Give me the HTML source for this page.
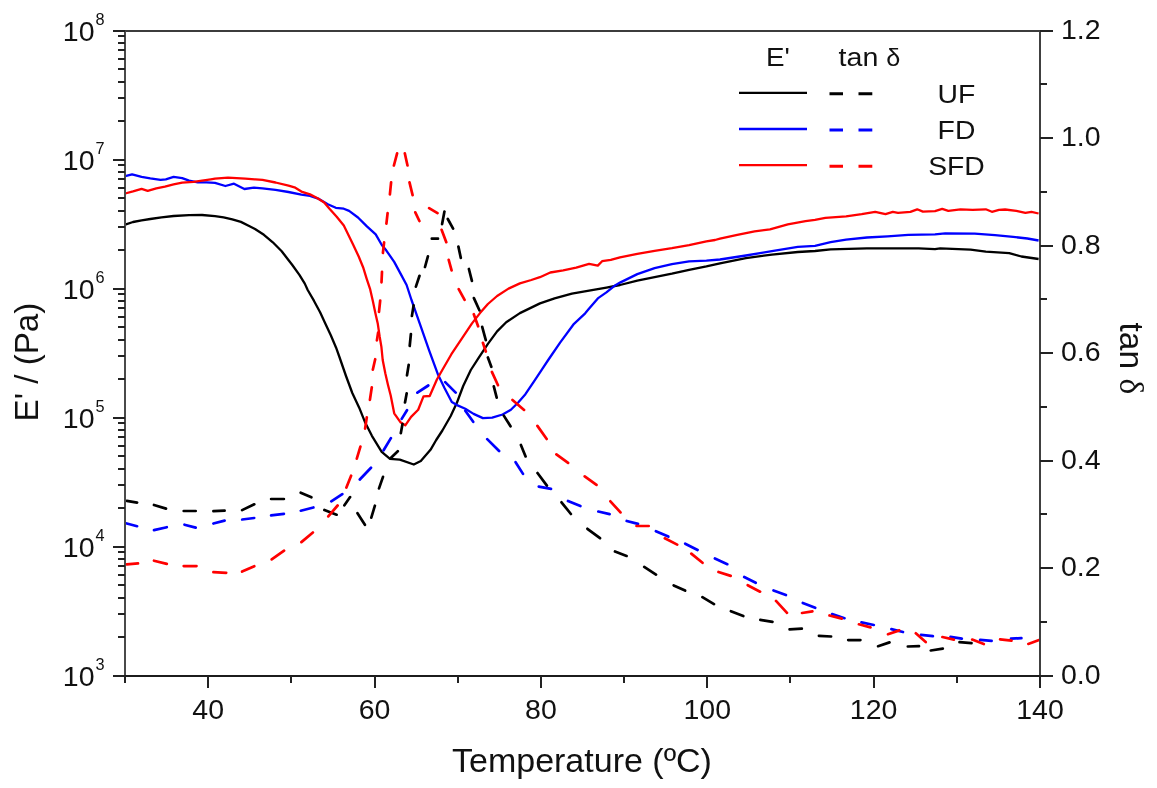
<!DOCTYPE html><html><head><meta charset="utf-8"><style>html,body{margin:0;padding:0;background:#fff;width:1157px;height:788px;overflow:hidden}svg{display:block;filter:blur(0.35px)}text{font-family:"Liberation Sans",sans-serif;fill:#111}</style></head><body>
<svg width="1157" height="788" viewBox="0 0 1157 788">
<rect width="1157" height="788" fill="#fff"/>
<g fill="none" stroke-linejoin="round">
<path d="M125.2 224.6 L133.0 222.0 L141.6 220.3 L150.3 219.0 L161.5 217.3 L173.6 216.0 L189.1 215.1 L202.1 215.0 L215.0 216.2 L223.6 217.4 L232.3 219.3 L240.9 221.9 L249.6 226.2 L255.0 229.0 L263.9 234.8 L272.8 242.3 L281.7 251.2 L286.1 257.0 L292.3 265.0 L299.4 274.8 L304.8 283.6 L307.7 290.0 L313.9 300.7 L320.1 312.2 L325.4 323.8 L330.8 335.3 L336.1 347.7 L339.6 357.5 L346.0 376.0 L352.3 393.0 L359.3 407.9 L364.9 421.9 L371.9 435.8 L381.7 451.9 L390.0 458.9 L399.8 459.6 L413.8 464.5 L420.8 461.0 L430.5 449.8 L436.2 440.0 L442.4 430.5 L450.7 416.0 L457.0 402.5 L463.2 386.0 L470.8 370.0 L478.8 357.6 L487.9 343.9 L497.1 331.4 L506.2 322.2 L519.9 313.1 L540.0 303.4 L554.6 298.4 L571.9 293.6 L589.1 290.6 L606.4 287.6 L620.0 285.0 L637.3 280.6 L654.6 277.2 L671.9 273.7 L689.1 269.8 L706.4 266.4 L720.0 263.3 L745.9 258.1 L771.9 254.6 L797.8 252.0 L815.0 251.0 L830.6 249.4 L866.9 248.4 L898.0 248.4 L918.7 248.4 L935.0 249.1 L940.2 248.4 L970.6 249.7 L985.8 251.7 L1009.2 253.1 L1021.4 256.5 L1038.6 259.0" stroke="#000" stroke-width="2.3"/>
<path d="M125.2 176.1 L132.1 174.3 L141.6 176.9 L150.3 178.4 L160.6 179.9 L165.8 179.3 L173.6 176.9 L182.2 178.1 L189.1 180.6 L197.8 182.3 L206.4 182.3 L215.0 182.8 L225.4 186.0 L234.0 183.7 L244.4 189.0 L253.9 187.7 L262.5 188.3 L275.5 189.9 L288.5 192.0 L301.4 194.6 L310.0 195.8 L318.9 198.9 L327.8 204.2 L335.8 207.8 L343.8 208.7 L349.1 210.9 L358.0 217.5 L366.9 226.4 L375.7 234.4 L381.8 245.0 L386.2 250.3 L394.2 261.9 L400.4 273.4 L406.6 285.0 L411.5 300.0 L416.0 312.8 L420.4 325.4 L429.2 350.7 L438.1 374.8 L444.5 388.0 L451.8 402.0 L457.0 405.1 L465.3 408.7 L473.6 413.9 L482.9 418.1 L492.2 417.6 L502.6 414.5 L510.9 409.8 L518.2 402.5 L525.4 394.2 L533.7 381.8 L542.0 369.3 L548.2 360.0 L560.1 342.6 L574.0 323.8 L585.2 313.3 L588.3 309.6 L597.8 298.4 L606.4 292.4 L615.1 285.4 L620.0 282.6 L637.3 274.1 L654.6 268.1 L671.9 264.2 L689.1 261.4 L706.4 260.6 L720.0 259.5 L745.9 255.5 L771.9 251.2 L797.8 246.9 L815.0 245.8 L830.6 242.2 L846.1 239.6 L866.9 237.5 L887.6 236.3 L908.3 234.9 L935.0 234.4 L945.2 233.4 L974.7 233.6 L995.0 235.2 L1013.2 236.9 L1027.4 238.5 L1038.6 240.5" stroke="#0000ff" stroke-width="2.3"/>
<path d="M125.2 193.5 L133.0 191.4 L141.6 188.8 L147.7 190.8 L156.3 188.3 L164.9 186.6 L173.6 184.4 L182.2 182.7 L193.5 181.9 L202.1 180.6 L210.8 179.3 L215.0 178.6 L228.0 177.6 L245.3 178.6 L262.5 179.9 L275.5 182.5 L288.5 185.6 L294.5 187.3 L301.4 191.6 L310.0 194.4 L317.1 198.0 L324.2 202.4 L329.5 208.7 L336.7 216.7 L343.8 225.5 L353.3 245.0 L358.7 256.5 L363.1 267.2 L366.7 278.8 L370.2 289.4 L373.0 301.7 L375.4 313.2 L377.8 323.8 L379.6 336.2 L381.4 346.9 L382.7 360.0 L385.3 373.3 L388.0 384.9 L390.7 395.5 L394.2 413.3 L400.4 422.2 L405.3 425.3 L411.1 416.9 L418.2 409.7 L423.5 396.4 L429.7 396.0 L436.9 379.5 L442.3 370.0 L451.4 354.2 L462.8 337.1 L472.0 323.4 L480.0 313.1 L487.9 304.0 L497.1 296.0 L508.5 288.6 L519.9 283.4 L531.3 280.0 L539.9 277.2 L550.3 272.5 L563.2 270.3 L576.2 267.7 L589.1 263.8 L597.8 265.6 L602.1 261.2 L610.8 259.9 L620.0 257.3 L637.3 253.8 L654.6 250.8 L671.9 248.2 L689.1 245.2 L706.4 241.3 L715.0 240.0 L720.0 238.6 L737.3 234.8 L754.6 231.3 L770.0 229.4 L787.8 224.4 L805.5 221.2 L815.0 219.9 L825.4 217.8 L846.1 216.3 L861.7 214.2 L875.2 211.8 L885.5 214.2 L892.8 211.8 L898.0 212.8 L910.4 211.8 L917.2 209.3 L922.9 211.6 L935.0 211.1 L942.2 208.8 L948.3 210.8 L960.5 209.3 L972.6 209.8 L985.8 209.3 L991.9 211.8 L999.0 209.8 L1005.1 209.5 L1016.3 210.8 L1025.4 212.8 L1031.5 211.8 L1038.6 213.5" stroke="#ff0000" stroke-width="2.3"/>
<path d="M126.8 500.8 L137.1 502.6M154.0 505.0 L166.0 508.6M183.7 511.0 L195.7 511.0M213.4 511.2 L224.6 510.6M242.1 510.1 L254.3 504.3M271.1 499.0 L283.9 499.0M300.7 492.7 L311.4 497.3M324.4 510.0 L336.6 514.7M344.4 505.3 L350.1 497.1M357.5 513.2 L364.9 524.8M371.3 517.6 L374.9 505.7M379.0 488.4 L383.0 476.9M390.8 457.9 L397.8 451.3M400.8 433.2 L402.5 424.0M405.0 402.5 L406.7 393.3M407.0 375.3 L408.7 364.8M409.7 346.0 L410.9 334.0M411.9 316.0 L413.6 305.4M415.9 286.6 L419.5 275.8M425.0 267.0 L427.9 256.4M431.8 238.7 L438.0 238.7M442.1 224.1 L444.4 211.7 L444.5 211.9M447.8 219.0 L453.1 228.6M458.4 246.6 L460.8 257.9M468.9 269.0 L471.9 280.9M473.9 298.1 L479.4 310.3M482.2 326.8 L485.8 340.2M487.9 357.5 L491.3 366.8M493.8 386.4 L496.7 397.6M503.8 415.6 L510.5 426.3M520.9 444.9 L525.6 456.4M537.5 473.0 L546.9 485.6M561.5 502.3 L570.9 514.0M587.4 528.8 L600.0 538.2M615.0 551.5 L626.6 555.9M644.2 566.9 L656.0 574.6M673.7 585.4 L685.1 590.6M702.4 597.1 L714.0 604.1M730.9 611.2 L743.3 616.1M760.3 619.9 L772.5 621.8M789.6 629.4 L801.8 628.7M818.9 635.8 L831.1 636.5M848.2 640.1 L860.4 640.1M878.1 646.2 L889.5 642.4M907.8 646.5 L919.0 646.2M930.8 650.5 L942.8 648.7M959.5 642.2 L971.5 643.1" stroke="#000" stroke-width="2.7" stroke-linecap="round"/>
<path d="M126.8 523.5 L137.1 526.2M154.0 530.1 L166.8 527.2M184.5 524.7 L195.7 527.6M213.4 523.5 L224.6 520.6M242.2 519.5 L254.2 518.0M271.1 515.4 L283.9 513.9M300.8 510.7 L313.4 507.5M331.3 501.3 L342.3 494.1M359.8 479.5 L371.0 467.7M383.6 450.3 L390.9 438.1M401.7 418.9 L407.0 410.2M417.4 392.7 L428.3 385.5M445.2 382.1 L455.7 392.6M465.3 410.8 L473.2 421.8M487.2 439.1 L499.1 451.0M515.6 462.2 L523.0 473.9M538.8 486.6 L551.0 488.9M568.0 501.0 L580.4 506.1M598.3 511.5 L609.6 514.1M626.7 521.0 L638.0 523.9M655.9 531.2 L668.3 536.6M685.2 543.7 L697.6 550.0M714.9 558.5 L727.3 564.2M744.2 577.0 L755.7 582.8M773.5 590.4 L785.9 595.0M802.8 602.9 L815.2 607.8M832.1 614.1 L844.5 618.2M861.5 622.4 L873.8 625.0M891.4 629.1 L903.0 632.0M921.0 634.8 L932.9 636.2M950.5 636.9 L961.8 638.7M980.2 639.9 L991.6 640.9M1011.0 638.7 L1021.4 638.1" stroke="#0000ff" stroke-width="2.7" stroke-linecap="round"/>
<path d="M126.8 564.3 L138.0 563.4M154.0 560.7 L166.8 563.9M183.7 566.1 L196.5 566.1M213.4 572.1 L226.2 572.8M242.1 571.6 L254.3 566.2M271.7 559.4 L284.1 550.7M301.4 542.1 L312.9 532.5M328.3 516.4 L337.6 505.5M346.4 487.5 L351.1 475.7M356.8 458.6 L360.4 446.6M365.1 428.6 L366.8 417.3M369.9 399.9 L371.8 387.3M372.8 369.7 L375.2 359.2M376.9 340.4 L378.1 332.7M379.0 311.8 L380.2 300.5M381.5 282.3 L382.0 271.8M382.9 253.0 L384.1 242.4M386.4 223.7 L387.6 213.1M389.9 194.4 L391.1 182.4M393.9 165.5 L397.1 153.3M404.8 153.3 L407.5 165.5M409.5 182.4 L412.6 195.1M415.3 212.3 L419.4 221.0M429.1 208.1 L437.5 213.1M441.6 229.8 L446.3 242.2M448.7 259.9 L451.6 270.4M458.7 289.1 L464.6 299.8M473.8 314.2 L478.1 326.3M482.9 342.8 L485.8 351.5M491.9 371.9 L498.0 385.2M512.5 399.9 L524.1 409.9M537.4 425.9 L546.7 439.0M556.4 454.4 L568.1 462.9M584.7 476.4 L596.5 484.9M610.4 501.3 L620.5 512.4M636.5 526.0 L648.7 526.0M664.8 538.3 L677.2 544.6M691.3 553.6 L702.5 562.8M718.5 572.0 L730.7 575.9M747.7 585.2 L760.1 591.7M776.0 600.9 L787.0 612.8M802.0 613.0 L812.4 611.4M829.5 615.5 L841.8 618.6M858.9 624.3 L870.5 627.4M888.0 634.2 L899.3 630.4M915.8 633.3 L925.7 642.0M942.4 637.0 L953.9 639.6M972.2 639.6 L983.8 644.0M1000.1 639.4 L1011.5 640.7M1028.3 643.9 L1038.4 640.2" stroke="#ff0000" stroke-width="2.7" stroke-linecap="round"/>
</g>
<g stroke="#222" stroke-width="2" fill="none" shape-rendering="crispEdges">
<path d="M124.0 30.5 H1041.0" stroke="#3c3c3c"/>
<path d="M1040.0 30.5 V675.5" stroke="#404040"/>
<path d="M125.0 30.5 V675.5" stroke="#4a4a4a"/>
<path d="M124.0 676.0 H1041.0" stroke="#1c1c1c"/>
<path d="M112.5 675.50 H125.0"/>
<path d="M118.0 636.67 H125.0"/>
<path d="M118.0 613.95 H125.0"/>
<path d="M118.0 597.83 H125.0"/>
<path d="M118.0 585.33 H125.0"/>
<path d="M118.0 575.12 H125.0"/>
<path d="M118.0 566.48 H125.0"/>
<path d="M118.0 559.00 H125.0"/>
<path d="M118.0 552.40 H125.0"/>
<path d="M112.5 546.50 H125.0"/>
<path d="M118.0 507.67 H125.0"/>
<path d="M118.0 484.95 H125.0"/>
<path d="M118.0 468.83 H125.0"/>
<path d="M118.0 456.33 H125.0"/>
<path d="M118.0 446.12 H125.0"/>
<path d="M118.0 437.48 H125.0"/>
<path d="M118.0 430.00 H125.0"/>
<path d="M118.0 423.40 H125.0"/>
<path d="M112.5 417.50 H125.0"/>
<path d="M118.0 378.67 H125.0"/>
<path d="M118.0 355.95 H125.0"/>
<path d="M118.0 339.83 H125.0"/>
<path d="M118.0 327.33 H125.0"/>
<path d="M118.0 317.12 H125.0"/>
<path d="M118.0 308.48 H125.0"/>
<path d="M118.0 301.00 H125.0"/>
<path d="M118.0 294.40 H125.0"/>
<path d="M112.5 288.50 H125.0"/>
<path d="M118.0 249.67 H125.0"/>
<path d="M118.0 226.95 H125.0"/>
<path d="M118.0 210.83 H125.0"/>
<path d="M118.0 198.33 H125.0"/>
<path d="M118.0 188.12 H125.0"/>
<path d="M118.0 179.48 H125.0"/>
<path d="M118.0 172.00 H125.0"/>
<path d="M118.0 165.40 H125.0"/>
<path d="M112.5 159.50 H125.0"/>
<path d="M118.0 120.67 H125.0"/>
<path d="M118.0 97.95 H125.0"/>
<path d="M118.0 81.83 H125.0"/>
<path d="M118.0 69.33 H125.0"/>
<path d="M118.0 59.12 H125.0"/>
<path d="M118.0 50.48 H125.0"/>
<path d="M118.0 43.00 H125.0"/>
<path d="M118.0 36.40 H125.0"/>
<path d="M112.5 30.50 H125.0"/>
<path d="M1040.0 675.50 H1052.5"/>
<path d="M1040.0 621.75 H1047.0"/>
<path d="M1040.0 568.00 H1052.5"/>
<path d="M1040.0 514.25 H1047.0"/>
<path d="M1040.0 460.50 H1052.5"/>
<path d="M1040.0 406.75 H1047.0"/>
<path d="M1040.0 353.00 H1052.5"/>
<path d="M1040.0 299.25 H1047.0"/>
<path d="M1040.0 245.50 H1052.5"/>
<path d="M1040.0 191.75 H1047.0"/>
<path d="M1040.0 138.00 H1052.5"/>
<path d="M1040.0 84.25 H1047.0"/>
<path d="M1040.0 30.50 H1052.5"/>
<path d="M125.00 675.5 V682.5"/>
<path d="M208.18 675.5 V688.0"/>
<path d="M291.36 675.5 V682.5"/>
<path d="M374.55 675.5 V688.0"/>
<path d="M457.73 675.5 V682.5"/>
<path d="M540.91 675.5 V688.0"/>
<path d="M624.09 675.5 V682.5"/>
<path d="M707.27 675.5 V688.0"/>
<path d="M790.45 675.5 V682.5"/>
<path d="M873.64 675.5 V688.0"/>
<path d="M956.82 675.5 V682.5"/>
<path d="M1040.00 675.5 V688.0"/>
</g>
<text x="208.2" y="718.5" font-size="28.5" text-anchor="middle">40</text>
<text x="374.5" y="718.5" font-size="28.5" text-anchor="middle">60</text>
<text x="540.9" y="718.5" font-size="28.5" text-anchor="middle">80</text>
<text x="707.3" y="718.5" font-size="28.5" text-anchor="middle">100</text>
<text x="873.6" y="718.5" font-size="28.5" text-anchor="middle">120</text>
<text x="1040.0" y="718.5" font-size="28.5" text-anchor="middle">140</text>
<text x="1061" y="683.8" font-size="28.5">0.0</text>
<text x="1061" y="576.3" font-size="28.5">0.2</text>
<text x="1061" y="468.8" font-size="28.5">0.4</text>
<text x="1061" y="361.3" font-size="28.5">0.6</text>
<text x="1061" y="253.8" font-size="28.5">0.8</text>
<text x="1061" y="146.3" font-size="28.5">1.0</text>
<text x="1061" y="38.8" font-size="28.5">1.2</text>
<text x="94.5" y="686.0" font-size="28.5" text-anchor="end">10</text>
<text x="95.5" y="669.7" font-size="16.3">3</text>
<text x="94.5" y="557.0" font-size="28.5" text-anchor="end">10</text>
<text x="95.5" y="540.7" font-size="16.3">4</text>
<text x="94.5" y="428.0" font-size="28.5" text-anchor="end">10</text>
<text x="95.5" y="411.7" font-size="16.3">5</text>
<text x="94.5" y="299.0" font-size="28.5" text-anchor="end">10</text>
<text x="95.5" y="282.7" font-size="16.3">6</text>
<text x="94.5" y="170.0" font-size="28.5" text-anchor="end">10</text>
<text x="95.5" y="153.7" font-size="16.3">7</text>
<text x="94.5" y="41.0" font-size="28.5" text-anchor="end">10</text>
<text x="95.5" y="24.7" font-size="16.3">8</text>
<text x="452" y="771.8" font-size="34">Temperature (ºC)</text>
<text transform="translate(37.8,421.5) rotate(-90)" font-size="33.2">E' / (Pa)</text>
<text transform="translate(1119.5,322.5) rotate(90)" font-size="33.5">tan <tspan font-family="Liberation Serif">δ</tspan></text>
<text transform="translate(766,65.9) scale(1.09,1)" font-size="25.5">E'</text>
<text transform="translate(838.6,65.9) scale(1.1,1)" font-size="26">tan</text>
<text transform="translate(886.3,65.9) scale(1.05,1)" font-size="24" font-family="Liberation Serif">δ</text>
<path d="M739 92.8 H807" stroke="#000" stroke-width="2.3"/>
<path d="M829.5 93.8 H843 M858.5 93.8 H872.3" stroke="#000" stroke-width="3"/>
<text transform="translate(956.5,102.89999999999999) scale(1.09,1)" font-size="26" text-anchor="middle">UF</text>
<path d="M739 129 H807" stroke="#0000ff" stroke-width="2.3"/>
<path d="M829.5 130 H843 M858.5 130 H872.3" stroke="#0000ff" stroke-width="3"/>
<text transform="translate(956.5,139.1) scale(1.09,1)" font-size="26" text-anchor="middle">FD</text>
<path d="M739 165.2 H807" stroke="#ff0000" stroke-width="2.3"/>
<path d="M829.5 166.2 H843 M858.5 166.2 H872.3" stroke="#ff0000" stroke-width="3"/>
<text transform="translate(956.5,175.29999999999998) scale(1.09,1)" font-size="26" text-anchor="middle">SFD</text>
</svg></body></html>
